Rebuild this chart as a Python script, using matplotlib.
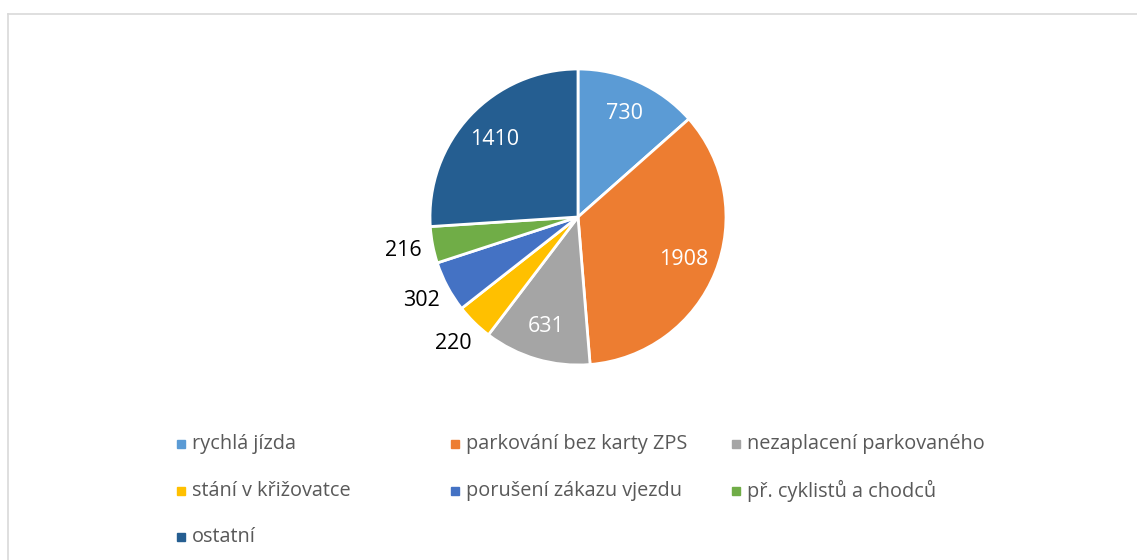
import matplotlib.pyplot as plt
from matplotlib.lines import Line2D
import numpy as np

plt.rcParams['font.family'] = ['Open Sans', 'DejaVu Sans']

categories = [
    "rychlá jízda",
    "parkování bez karty ZPS",
    "nezaplacení parkovaného",
    "stání v křižovatce",
    "porušení zákazu vjezdu",
    "př. cyklistů a chodců",
    "ostatní",
]
values = [730, 1908, 631, 220, 302, 216, 1410]
colors = ["#5B9BD5", "#ED7D31", "#A5A5A5", "#FFC000", "#4472C4", "#70AD47", "#255E91"]
label_inside = [True, True, True, False, False, False, True]

W, H = 1137, 560
fig = plt.figure(figsize=(W / 100, H / 100), dpi=100)

# chart border (top + left visible)
fig.add_artist(Line2D([8 / W, 1], [1 - 14 / H, 1 - 14 / H], color="#D9D9D9", lw=1.2))
fig.add_artist(Line2D([8 / W, 8 / W], [0, 1 - 14 / H], color="#D9D9D9", lw=1.2))

# pie axes, square in pixels
cx, cy, r = 578, 217, 148
ax = fig.add_axes([(cx - r) / W, 1 - (cy + r) / H, 2 * r / W, 2 * r / H])
wedges, _ = ax.pie(
    values,
    colors=colors,
    startangle=90,
    counterclock=False,
    radius=1.0,
    wedgeprops=dict(edgecolor="white", linewidth=2.0),
)
ax.set_xlim(-1, 1)
ax.set_ylim(-1, 1)
ax.set_aspect("equal")
ax.axis("off")

total = sum(values)
cum = np.cumsum([0] + values)
for i, v in enumerate(values):
    mid = (cum[i] + v / 2) / total
    ang = np.radians(90 - 360 * mid)
    if label_inside[i]:
        rr, col = 0.77, "white"
    else:
        rr, col = 1.2, "black"
    ax.text(rr * np.cos(ang), rr * np.sin(ang), str(v), ha="center", va="center",
            fontsize=15.5, color=col, clip_on=False)

# legend drawn per column like the original
col_x = [181, 455, 736]
row_y = [444, 491, 537]
for i, name in enumerate(categories):
    x = col_x[i % 3]
    y = row_y[i // 3]
    fig.add_artist(Line2D([x / W], [1 - y / H], marker="s", markersize=5.5,
                          color=colors[i], linestyle="none"))
    fig.text((x + 11) / W, 1 - y / H, name, ha="left", va="center",
             fontsize=14.3, color="#595959")

fig.savefig("out.png", dpi=100)
